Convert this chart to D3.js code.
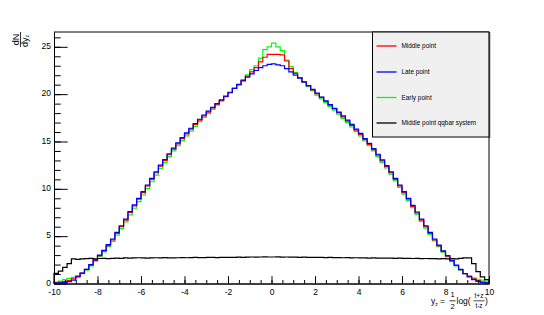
<!DOCTYPE html>
<html><head><meta charset="utf-8">
<script src="https://cdn.jsdelivr.net/npm/d3@7"></script>
<style>body{margin:0;background:#fff}svg{display:block;font-family:"Liberation Sans",Arial,sans-serif}</style>
</head><body>
<svg id="c" width="544" height="315"></svg>
<script>
// bin edges: 100 bins over [-10, 10]
const xMin = -10, xMax = 10, nBins = 100;
const xTickLabels = ["-10","-8","-6","-4","-2","0","2","4","6","8","10"];
const yTickLabels = ["0","5","10","15","20","25"];
const seriesNames = ["Middle point","Late point","Early point","Middle point qqbar system"];
const seriesColors = ["#ff0000","#0000ff","#00ff00","#000000"];

const middle = [0.1,0.15,0.2,0.3,0.5,0.75,1.1,1.5,1.95,2.45,2.95,3.45,4.0,4.6,5.3,6.0,6.7,7.5,8.2,8.9,9.6,10.3,11.0,11.7,12.4,13.0,13.6,14.2,14.75,15.3,15.8,16.3,16.8,17.25,17.7,18.1,18.55,18.95,19.35,19.75,20.15,20.6,21.0,21.45,21.9,22.35,22.8,23.4,23.9,24.2,
24.2,24.2,24.15,23.5,22.7,22.2,21.75,21.3,20.9,20.45,20.05,19.65,19.25,18.85,18.45,18.05,17.6,17.15,16.7,16.2,15.75,15.2,14.7,14.15,13.55,12.95,12.35,11.7,11.0,10.3,9.6,8.9,8.15,7.45,6.7,6.0,5.3,4.6,4.0,3.4,2.9,2.4,1.9,1.45,1.05,0.75,0.5,0.3,0.15,0.08];
const late = [0.05,0.08,0.12,0.2,0.35,0.7,1.1,1.5,2.0,2.5,3.0,3.5,4.1,4.7,5.4,6.1,6.8,7.6,8.3,9.0,9.7,10.4,11.1,11.8,12.5,13.1,13.7,14.3,14.85,15.4,15.9,16.4,16.9,17.35,17.8,18.2,18.6,19.0,19.4,19.8,20.2,20.6,21.0,21.4,21.8,22.15,22.5,22.8,23.0,23.15,
23.2,23.1,23.0,22.7,22.35,22.0,21.7,21.3,20.9,20.5,20.1,19.7,19.3,18.9,18.5,18.1,17.7,17.25,16.8,16.3,15.85,15.3,14.8,14.25,13.65,13.05,12.45,11.8,11.1,10.4,9.7,9.0,8.25,7.55,6.8,6.1,5.4,4.7,4.05,3.45,2.95,2.45,1.95,1.5,1.05,0.7,0.4,0.22,0.12,0.06];
const early = [0.15,0.25,0.4,0.55,0.65,0.8,1.05,1.4,1.85,2.35,2.85,3.35,3.9,4.45,5.1,5.8,6.5,7.25,7.95,8.65,9.35,10.05,10.75,11.45,12.15,12.8,13.4,14.0,14.55,15.1,15.6,16.1,16.6,17.1,17.55,17.95,18.4,18.85,19.25,19.7,20.15,20.6,21.05,21.55,22.05,22.6,23.0,23.8,24.7,25.0,
25.4,25.0,24.6,23.6,22.9,22.3,21.75,21.25,20.8,20.35,19.9,19.5,19.1,18.7,18.3,17.9,17.45,17.0,16.55,16.05,15.6,15.05,14.55,14.0,13.4,12.8,12.2,11.55,10.85,10.15,9.45,8.75,8.0,7.3,6.55,5.85,5.15,4.5,3.9,3.3,2.8,2.3,1.85,1.4,1.05,0.8,0.6,0.45,0.35,0.25];
const qqbar = [1.07,1.3,1.7,2.1,2.6,2.55,2.6,2.62,2.65,2.6,2.64,2.66,2.62,2.65,2.68,2.66,2.7,2.68,2.7,2.72,2.7,2.68,2.71,2.72,2.7,2.73,2.71,2.7,2.72,2.74,2.72,2.73,2.75,2.74,2.73,2.75,2.76,2.74,2.76,2.77,2.75,2.77,2.78,2.77,2.79,2.8,2.79,2.8,2.81,2.8,
2.8,2.81,2.79,2.8,2.78,2.79,2.77,2.78,2.76,2.77,2.75,2.76,2.74,2.75,2.73,2.74,2.72,2.73,2.71,2.72,2.7,2.71,2.69,2.7,2.68,2.69,2.67,2.68,2.66,2.67,2.65,2.66,2.64,2.65,2.63,2.64,2.62,2.63,2.61,2.62,2.6,2.62,2.6,2.65,2.7,2.7,2.1,1.25,0.7,0.4];

const series = [middle, late, early, qqbar];
const drawOrder = [2, 0, 1, 3];

const L = 54, R = 489, T = 32, B = 283.5;
const yMax = 26.565;
const svg = d3.select("#c");
const x = d3.scaleLinear().domain([xMin, xMax]).range([L, R]);
const y = d3.scaleLinear().domain([0, yMax]).range([B, T]);
const bw = (xMax - xMin) / nBins;

// histograms
function stepPath(vals) {
  let p = d3.path();
  p.moveTo(x(xMin), y(0));
  vals.forEach((v, i) => {
    const x0 = xMin + i * bw, x1 = x0 + bw;
    p.lineTo(x(x0), y(v));
    p.lineTo(x(x1), y(v));
  });
  p.lineTo(x(xMax), y(0));
  return p.toString();
}
drawOrder.forEach(k => {
  svg.append("path").attr("d", stepPath(series[k]))
    .attr("fill", "none").attr("stroke", seriesColors[k]).attr("stroke-width", 1.2)
    .attr("stroke-linejoin", "miter");
});

// axes
const fs = 8.5;
const yAxis = d3.axisLeft(y).tickValues(yTickLabels.map(Number)).tickFormat((d,i)=>yTickLabels[i])
  .tickSizeInner(-13.7).tickSizeOuter(0).tickPadding(3);
const yMinor = d3.axisLeft(y).tickValues(d3.range(0, 27, 1)).tickFormat("").tickSizeInner(-6.7).tickSizeOuter(0);
const xAxis = d3.axisBottom(x).tickValues(xTickLabels.map(Number)).tickFormat((d,i)=>xTickLabels[i])
  .tickSizeInner(-7.3).tickSizeOuter(0).tickPadding(5);
const xMinor = d3.axisBottom(x).tickValues(d3.range(-10, 10.01, 0.5)).tickFormat("").tickSizeInner(-3.5).tickSizeOuter(0);

function style(g){ g.selectAll("path,line").attr("stroke","#000").attr("stroke-width",1); g.selectAll("text").attr("font-size",fs).attr("fill","#000").attr("font-family","Liberation Sans, Arial, sans-serif"); }
svg.append("g").attr("transform",`translate(${L},0)`).call(yMinor).call(style);
const ya = svg.append("g").attr("transform",`translate(${L},0)`).call(yAxis).call(style);
ya.selectAll("text").attr("dy","0.2em");
svg.append("g").attr("transform",`translate(0,${B})`).call(xMinor).call(style);
svg.append("g").attr("transform",`translate(0,${B})`).call(xAxis).call(style);

// frame
svg.append("line").attr("x1",L).attr("x2",R).attr("y1",T).attr("y2",T).attr("stroke","#000");
svg.append("line").attr("x1",R).attr("x2",R).attr("y1",T).attr("y2",B).attr("stroke","#000");

// legend
const lg = svg.append("g");
lg.append("rect").attr("x",372.5).attr("y",T).attr("width",R-372.5).attr("height",137-T)
  .attr("fill","#f0f0f0").attr("stroke","#000").attr("stroke-width",1);
lg.append("line").attr("x1",R+0.5).attr("x2",R+0.5).attr("y1",T).attr("y2",138).attr("stroke","#333").attr("stroke-width",1.5);
const ly = [46, 72, 97.5, 123];
seriesNames.forEach((n, i) => {
  lg.append("line").attr("x1",376.5).attr("x2",396.5).attr("y1",ly[i]).attr("y2",ly[i])
    .attr("stroke",seriesColors[i]).attr("stroke-width",1.3);
  lg.append("text").attr("x",401.5).attr("y",ly[i]+2.3).attr("font-size",6.4).attr("fill","#000").text(n);
});

// y title: dN / dy_z rotated
const yt = svg.append("g").attr("transform","translate(20.5,39.5) rotate(-90)");
yt.append("text").attr("x",0).attr("y",-1.3).attr("text-anchor","middle").attr("font-size",9).text("dN");
yt.append("line").attr("x1",-7.5).attr("x2",7.5).attr("y1",0).attr("y2",0).attr("stroke","#000").attr("stroke-width",0.8);
const ytd = yt.append("text").attr("x",-1.5).attr("y",7.2).attr("text-anchor","middle").attr("font-size",9);
ytd.append("tspan").text("dy");
ytd.append("tspan").attr("font-size",5).attr("dy",1.5).text("z");

// x title: y_z = 1/2 log((t+z)/(t-z))
const xt = svg.append("g").attr("font-size",fs);
const xbase = 304;
const t1 = xt.append("text").attr("x",431).attr("y",xbase);
t1.append("tspan").text("y");
t1.append("tspan").attr("font-size",5).attr("dy",1.5).text("z");
t1.append("tspan").attr("dy",-1.5).text(" =");
xt.append("text").attr("x",452.5).attr("y",xbase-7).attr("text-anchor","middle").attr("font-size",7.5).text("1");
xt.append("line").attr("x1",449.5).attr("x2",455.5).attr("y1",xbase-3.2).attr("y2",xbase-3.2).attr("stroke","#000").attr("stroke-width",0.8);
xt.append("text").attr("x",452.5).attr("y",xbase+5).attr("text-anchor","middle").attr("font-size",7.5).text("2");
xt.append("text").attr("x",456.5).attr("y",xbase).text("log(");
xt.append("text").attr("x",479).attr("y",xbase-6).attr("text-anchor","middle").attr("font-size",6.5).text("t+z");
xt.append("line").attr("x1",473.5).attr("x2",484.5).attr("y1",xbase-3.2).attr("y2",xbase-3.2).attr("stroke","#000").attr("stroke-width",0.7);
xt.append("text").attr("x",479).attr("y",xbase+3.5).attr("text-anchor","middle").attr("font-size",6.5).text("t-z");
xt.append("text").attr("x",485).attr("y",xbase).text(")");
</script>
</body></html>
